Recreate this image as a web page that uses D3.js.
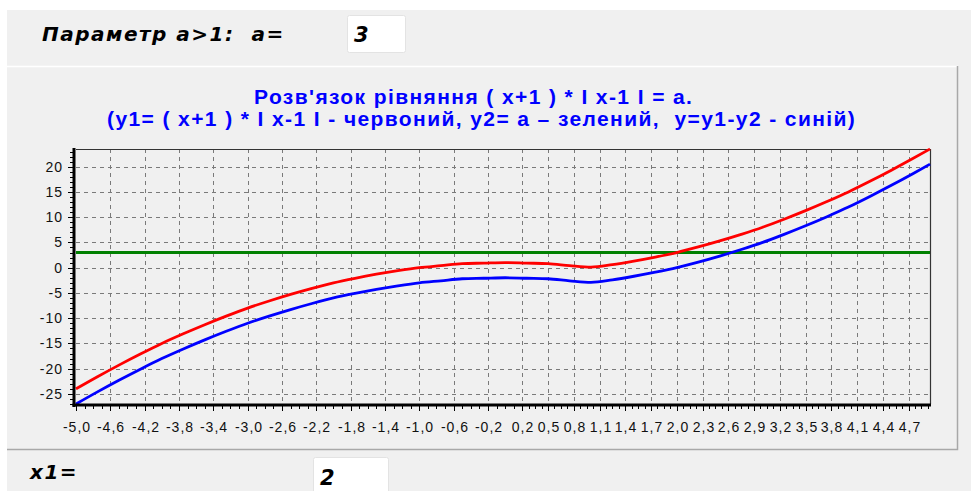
<!DOCTYPE html>
<html>
<head>
<meta charset="utf-8">
<script src="https://cdnjs.cloudflare.com/ajax/libs/d3/7.8.5/d3.min.js"></script>
<style>
    body { margin: 0; background: #fff; }
    svg { display: block; }
    text { white-space: pre; }
</style>
</head>
<body>
<script>
//begin script when window loads
(function(){

    // x values of the plotted points
    var xValues = [-5, -4.75, -4.5, -4.25, -4, -3.75, -3.5, -3.25, -3, -2.75, -2.5, -2.25,
        -2, -1.75, -1.5, -1.25, -1, -0.75, -0.5, -0.25, 0, 0.25, 0.5, 0.75, 1, 1.25,
        1.5, 1.75, 2, 2.25, 2.5, 2.75, 3, 3.25, 3.5, 3.75, 4, 4.25, 4.5, 4.75, 4.95];

    // y1 - red
    var y1Values = [-24, -21.6, -19.3, -17.1, -15, -13.1, -11.3, -9.6, -8, -6.6, -5.3, -4.1,
        -3, -2.1, -1.3, -0.6, 0, 0.4, 0.8, 0.9, 1, 0.9, 0.8, 0.4, 0.1, 0.6,
        1.3, 2.1, 3, 4.1, 5.3, 6.6, 8, 9.6, 11.3, 13.1, 15, 17.1, 19.3, 21.6, 23.5];

    // y = y1 - y2 - blue
    var yValues = [-27, -24.6, -22.3, -20.1, -18, -16.1, -14.3, -12.6, -11, -9.6, -8.3, -7.1,
        -6, -5.1, -4.3, -3.6, -3, -2.6, -2.2, -2.1, -2, -2.1, -2.2, -2.6, -2.9, -2.4,
        -1.7, -0.9, 0, 1.1, 2.3, 3.6, 5, 6.6, 8.3, 10.1, 12, 14.1, 16.3, 18.6, 20.5];

    // y2 = a - green
    var y2X = [-5, 4.95];
    var y2Values = [3, 3];

    var xTickValues = [-5.0, -4.6, -4.2, -3.8, -3.4, -3.0, -2.6, -2.2, -1.8, -1.4, -1.0, -0.6,
        -0.2, 0.2, 0.5, 0.8, 1.1, 1.4, 1.7, 2.0, 2.3, 2.6, 2.9, 3.2, 3.5, 3.8, 4.1, 4.4, 4.7];
    var yTickValues = [-25, -20, -15, -10, -5, 0, 5, 10, 15, 20];

    var titleLines = [
        "Розв'язок рівняння ( x+1 ) * I x-1 I = a.",
        "(y1= ( x+1 ) * I x-1 I - червоний, y2= a \u2013 зелений,  y=y1-y2 - синій)"
    ];
    var paramLabel = "Параметр a>1:  a=",
        paramValue = "3",
        x1Label = "x1=",
        x1Value = "2";

    window.onload = setChart();

    function setChart(){
        var width = 971,
            height = 491;

        var svg = d3.select("body")
            .append("svg")
            .attr("width", width)
            .attr("height", height);

        setPanels(svg);

        var plot = { left: 76, right: 930, top: 149, bottom: 404 };

        var x = d3.scaleLinear()
            .domain([-5, 4.95])
            .range([plot.left, plot.right]);

        var y = d3.scaleLinear()
            .domain([-27, 23.5])
            .range([plot.bottom, plot.top]);

        //title, two lines
        svg.selectAll(".title")
            .data(titleLines)
            .enter()
            .append("text")
            .attr("class", "title")
            .attr("x", function(d, i){ return i == 0 ? 254 : 107; })
            .attr("y", function(d, i){ return 104 + i * 22; })
            .style("font-family", "'Liberation Sans', Arial, sans-serif")
            .style("font-weight", "bold")
            .style("font-size", "21px")
            .style("letter-spacing", "1.4px")
            .style("fill", "#0000ff")
            .text(function(d){ return d; });

        //dashed grid
        var grid = svg.append("g").attr("class", "grid");
        grid.selectAll(".vgrid")
            .data(xTickValues.slice(1))
            .enter()
            .append("line")
            .attr("x1", function(d){ return Math.round(x(d)) + 0.5; })
            .attr("x2", function(d){ return Math.round(x(d)) + 0.5; })
            .attr("y1", plot.top)
            .attr("y2", plot.bottom)
            .style("stroke", "#7a7a7a")
            .style("stroke-dasharray", "4,4");
        grid.selectAll(".hgrid")
            .data(yTickValues)
            .enter()
            .append("line")
            .attr("x1", plot.left)
            .attr("x2", plot.right)
            .attr("y1", function(d){ return Math.round(y(d)) + 0.5; })
            .attr("y2", function(d){ return Math.round(y(d)) + 0.5; })
            .style("stroke", "#7a7a7a")
            .style("stroke-dasharray", "4,4");

        //frame top and right
        svg.append("path")
            .attr("d", "M" + plot.left + "," + (plot.top + 0.5) + "H" + (plot.right + 0.5) + "V" + plot.bottom)
            .style("fill", "none")
            .style("stroke", "#333")
            .style("stroke-width", 1.2);

        //series
        var line = d3.line()
            .x(function(d){ return x(d[0]); })
            .y(function(d){ return y(d[1]); })
            .curve(d3.curveMonotoneX);

        var series = [
            { pts: d3.zip(y2X, y2Values), color: "#008000" },
            { pts: d3.zip(xValues, y1Values), color: "#ff0000" },
            { pts: d3.zip(xValues, yValues), color: "#0000ff" }
        ];

        svg.selectAll(".series")
            .data(series)
            .enter()
            .append("path")
            .attr("class", "series")
            .attr("d", function(d){ return line(d.pts); })
            .style("fill", "none")
            .style("stroke", function(d){ return d.color; })
            .style("stroke-width", 2.8);

        setAxes(svg, x, y, plot);
    };

    function setAxes(svg, x, y, plot){
        var axisFont = "'Liberation Sans', Arial, sans-serif";

        //x minor ticks: 3 between every pair of labels
        var xMinor = [];
        for (var i = 0; i < xTickValues.length; i++){
            var a = xTickValues[i],
                b = i < xTickValues.length - 1 ? xTickValues[i + 1] : a + 0.3;
            for (var k = 1; k < 4; k++){
                var v = a + (b - a) * k / 4;
                if (v <= x.domain()[1]) xMinor.push(v);
            }
        }

        var xAxis = d3.axisBottom(x)
            .tickValues(xTickValues)
            .tickSize(5)
            .tickPadding(11)
            .tickFormat(function(d){ return d3.format(".1f")(d).replace(".", ",").replace("−", "-"); });

        var gx = svg.append("g")
            .attr("transform", "translate(0," + (plot.bottom + 2) + ")")
            .call(xAxis);

        gx.selectAll(".tick")
            .attr("transform", function(d){ return "translate(" + (Math.round(x(d)) + 0.5) + ",0)"; });
        gx.selectAll(".tick text").attr("dx", "0.5px");

        gx.selectAll(".minor")
            .data(xMinor)
            .enter()
            .append("line")
            .attr("x1", function(d){ return Math.round(x(d)) + 0.5; })
            .attr("x2", function(d){ return Math.round(x(d)) + 0.5; })
            .attr("y1", 0)
            .attr("y2", 3)
            .style("stroke", "#000");

        var yMinor = d3.range(-27, 24).filter(function(d){ return d % 5 !== 0; });

        var yAxis = d3.axisLeft(y)
            .tickValues(yTickValues)
            .tickSize(5)
            .tickPadding(5)
            .tickFormat(function(d){ return String(d); });

        var gy = svg.append("g")
            .attr("transform", "translate(" + (plot.left - 3) + ",0)")
            .call(yAxis);

        gy.selectAll(".tick")
            .attr("transform", function(d){ return "translate(0," + (Math.round(y(d)) + 0.5) + ")"; });

        gy.selectAll(".minor")
            .data(yMinor)
            .enter()
            .append("line")
            .attr("x1", -3)
            .attr("x2", 0)
            .attr("y1", function(d){ return Math.round(y(d)) + 0.5; })
            .attr("y2", function(d){ return Math.round(y(d)) + 0.5; })
            .style("stroke", "#000");

        [gx, gy].forEach(function(g){
            g.select(".domain").remove();
            g.selectAll(".tick line").style("stroke", "#000");
            g.selectAll("text")
                .style("font-family", axisFont)
                .style("font-size", "14px")
                .style("letter-spacing", "1px")
                .style("fill", "#111");
        });

        //thick axis lines
        svg.append("line")
            .attr("x1", plot.left - 2)
            .attr("x2", plot.left - 2)
            .attr("y1", plot.top - 1)
            .attr("y2", plot.bottom + 3)
            .style("stroke", "#000")
            .style("stroke-width", 3);
        svg.append("line")
            .attr("x1", plot.left - 3.5)
            .attr("x2", plot.right + 1)
            .attr("y1", plot.bottom + 1)
            .attr("y2", plot.bottom + 1)
            .style("stroke", "#000")
            .style("stroke-width", 3);
    };

    function setPanels(svg){
        var labelFont = "'DejaVu Sans', Verdana, sans-serif";

        //gray form background
        svg.append("rect")
            .attr("x", 7)
            .attr("y", 10)
            .attr("width", 964)
            .attr("height", 481)
            .style("fill", "#f0f0f0");

        //chart panel borders
        svg.append("path")
            .attr("d", "M7,66.5H958")
            .style("stroke", "#fff")
            .style("stroke-width", 1.5);
        svg.append("path")
            .attr("d", "M7,449.5H957.5V66")
            .style("fill", "none")
            .style("stroke", "#a8a8a8")
            .style("stroke-width", 1.5);

        //input boxes
        var boxes = [
            { x: 347, y: 15, w: 58, h: 37, label: paramLabel, lx: 42, ly: 41, value: paramValue, vx: 354, vy: 42 },
            { x: 313, y: 457, w: 75, h: 40, label: x1Label, lx: 30, ly: 479, value: x1Value, vx: 320, vy: 485 }
        ];

        boxes.forEach(function(b){
            svg.append("rect")
                .attr("x", b.x + 0.5)
                .attr("y", b.y + 0.5)
                .attr("width", b.w)
                .attr("height", b.h)
                .attr("rx", 2)
                .style("fill", "#fff")
                .style("stroke", "#e3e3e3");

            svg.append("text")
                .attr("x", b.lx)
                .attr("y", b.ly)
                .style("font-family", labelFont)
                .style("font-weight", "bold")
                .style("font-style", "italic")
                .style("font-size", "20px")
                .style("letter-spacing", "1.5px")
                .style("fill", "#000")
                .text(b.label);

            svg.append("text")
                .attr("x", b.vx)
                .attr("y", b.vy)
                .style("font-family", labelFont)
                .style("font-weight", "bold")
                .style("font-style", "italic")
                .style("font-size", "21px")
                .style("fill", "#000")
                .text(b.value);
        });
    };

})()
</script>
</body>
</html>
